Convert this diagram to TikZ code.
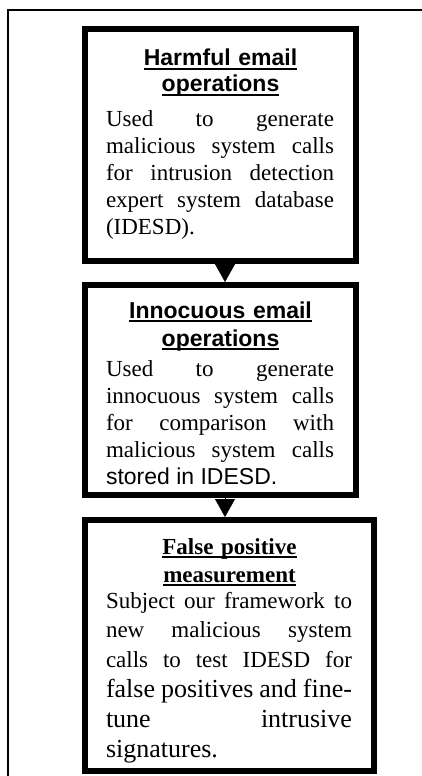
\documentclass[tikz,border=0pt]{standalone}
\usepackage{fontspec}
\setmainfont{Liberation Serif}
\setsansfont{Liberation Sans}
\usetikzlibrary{arrows.meta}
% heading line with a thick underline
\newcommand\ttlline[1]{\leavevmode\setbox0\hbox{#1}\rlap{\rule[-4.2pt]{\wd0}{2pt}}\box0}

\begin{document}
\begin{tikzpicture}[
  x=1pt, y=-1pt,
  box/.style={draw, line width=6pt, inner sep=0pt},
  head/.style={
    inner sep=0pt, text width=260pt, align=center, anchor=base,
    font=\sffamily\bfseries\fontsize{23}{28}\selectfont
  },
  body/.style={
    inner sep=0pt, text width=228pt, align=justify, anchor=base,
    font=\fontsize{23}{27}\selectfont
  },
  conn/.style={-{Triangle[length=18pt, width=20pt]}, line width=0.4pt},
  frameline/.style={line width=1.5pt}
]
\useasboundingbox (0,0) rectangle (422,776);

% ============ FRAME (open to the right and bottom) ============
\coordinate (framebl) at (8,776);
\coordinate (frametl) at (8,10);
\coordinate (frametr) at (422,10);
\draw[frameline] (framebl) -- (frametl) -- (frametr);

% ============ BOX 1: harmful operations ============
\node[box, minimum width=271pt, minimum height=232pt] (harm) at (220.5,145) {};
\node[head, font=\sffamily\bfseries\fontsize{23}{26}\selectfont] (harmttl) at (220.5,66)
  {\ttlline{Harmful email}\\\ttlline{operations}};
\node[body] (harmtxt) at (220,126)
  {Used to generate\linebreak malicious system calls\linebreak
   for intrusion detection\linebreak expert system database\linebreak (IDESD).};

% ============ BOX 2: innocuous operations ============
\node[box, minimum width=271pt, minimum height=210pt] (inno) at (220.5,390) {};
\node[head] (innottl) at (220.5,318)
  {\ttlline{Innocuous email}\\\ttlline{operations}};
\node[body] (innotxt) at (220,376)
  {Used to generate\linebreak innocuous system calls\linebreak
   for comparison with\linebreak malicious system calls\linebreak
   {\sffamily stored in IDESD.}};

% ============ BOX 3: false positives ============
\node[box, minimum width=289pt, minimum height=251pt] (fpos) at (229.5,645.5) {};
\node[head, font=\rmfamily\bfseries\fontsize{23}{28}\selectfont] (fposttl) at (229.5,554)
  {\ttlline{False positive}\\\ttlline{measurement}};
\node[body, text width=246pt, font=\fontsize{23}{29.8}\selectfont] (fpostxt) at (229,608)
  {Subject our framework to\linebreak new malicious system\linebreak
   calls to test IDESD for\linebreak
   {\fontsize{26}{29.8}\selectfont false positives and fine-\linebreak
   tune intrusive\linebreak signatures.}};

% connections
\draw[conn] ([xshift=4.5pt]harm.south) -- ([xshift=4.5pt]inno.north);
\draw[conn] ([xshift=4.5pt]inno.south) -- ([xshift=-4.5pt]fpos.north);

\end{tikzpicture}
\end{document}
